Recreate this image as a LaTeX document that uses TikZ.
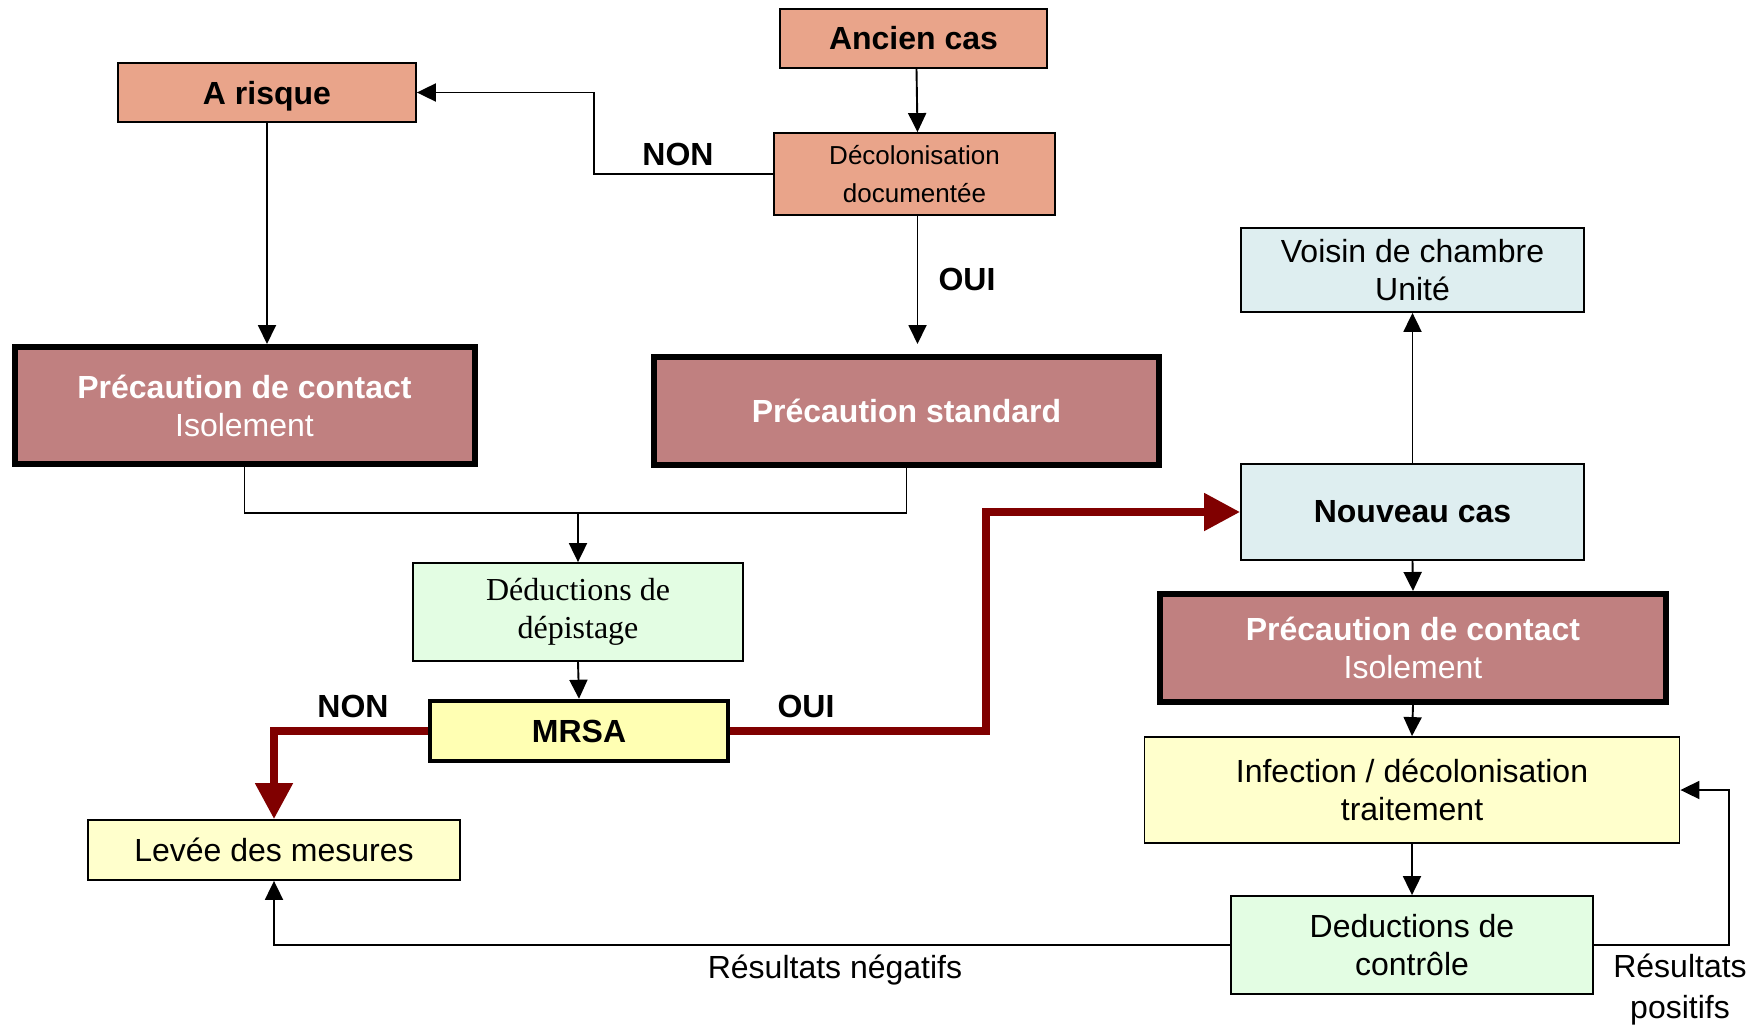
\documentclass[tikz,border=0pt]{standalone}
\usepackage{fontspec}
\setmainfont{Liberation Sans}
\newfontfamily\timesfont{Liberation Serif}
\usetikzlibrary{arrows.meta}
\definecolor{salmonc}{RGB}{233,164,138}
\definecolor{mauvec}{RGB}{192,128,128}
\definecolor{bluec}{RGB}{222,238,240}
\definecolor{greenc}{RGB}{227,253,227}
\definecolor{yellowc}{RGB}{255,255,204}
\definecolor{mrsac}{RGB}{255,255,179}
\definecolor{darkredc}{RGB}{128,0,0}
\begin{document}
\begin{tikzpicture}[x=1pt,y=-1pt,
  box/.style={draw=black, line width=1.8pt, inner sep=0pt, align=center,
    font=\fontsize{32}{38}\selectfont},
  heavybox/.style={box, line width=6pt, fill=mauvec, text=white},
  arr/.style={line width=1.9pt, -{Triangle[length=19pt,width=18pt]}},
  plain/.style={line width=1.9pt},
  redarr/.style={draw=darkredc, line width=8pt, -{Triangle[length=36pt,width=36pt]}},
  lbl/.style={font=\fontsize{32}{38}\selectfont\bfseries, inner sep=0pt},
  txt/.style={font=\fontsize{32}{38}\selectfont, inner sep=0pt, align=center}
]
\useasboundingbox (0,0) rectangle (1764,1025);

% nodes
\node[box, fill=salmonc, minimum width=267pt, minimum height=59pt, font=\fontsize{32}{38}\selectfont\bfseries] (ancien) at (913.5,38.5) {Ancien cas};
\node[box, fill=salmonc, minimum width=298pt, minimum height=59pt, text depth=0pt, font=\fontsize{32}{38}\selectfont\bfseries] (arisque) at (267,92.5) {A risque};
\node[box, fill=salmonc, minimum width=281pt, minimum height=82pt, font=\fontsize{26}{38}\selectfont] (decol) at (914.5,174) {Décolonisation\\documentée};
\node[heavybox, minimum width=460pt, minimum height=117pt] (pcl) at (244.5,405.5) {\textbf{Précaution de contact}\\Isolement};
\node[heavybox, minimum width=505pt, minimum height=108pt, font=\fontsize{32}{38}\selectfont\bfseries] (pstd) at (906.5,411) {Précaution standard};
\node[box, fill=greenc, minimum width=330pt, minimum height=98pt, font=\fontsize{32}{38}\timesfont] (dep) at (578,612) {Déductions de\\dépistage};
\node[box, fill=mrsac, line width=4.5pt, minimum width=298pt, minimum height=60pt, font=\fontsize{32}{38}\selectfont\bfseries] (mrsa) at (579,731) {MRSA};
\node[box, fill=yellowc, minimum width=372pt, minimum height=60pt] (levee) at (274,850) {Levée des mesures};
\node[box, fill=bluec, minimum width=343pt, minimum height=84pt] (voisin) at (1412.5,270) {Voisin de chambre\\Unité};
\node[box, fill=bluec, minimum width=343pt, minimum height=96pt, font=\fontsize{32}{38}\selectfont\bfseries] (nouveau) at (1412.5,512) {Nouveau cas};
\node[heavybox, minimum width=506pt, minimum height=108pt] (pcr) at (1413,648) {\textbf{Précaution de contact}\\Isolement};
\node[box, fill=yellowc, minimum width=535pt, minimum height=106pt] (infect) at (1412,790) {Infection / décolonisation\\traitement};
\node[box, fill=greenc, minimum width=362pt, minimum height=98pt] (controle) at (1412,945) {Deductions de\\contrôle};

% labels
\node[lbl] (non1) at (678,154) {NON};
\node[lbl] (oui1) at (967,279) {OUI};
\node[lbl] (non2) at (353,706) {NON};
\node[lbl] (oui2) at (806,706) {OUI};
\node[txt] (neg) at (835,970) {Résultats négatifs};
\node[txt] (pos) at (1680,990) {Résultats\\[3pt]positifs};

% connectors
\draw[arr] ([xshift=3pt]ancien.south) -- ([xshift=3pt]decol.north);
\draw[arr] (decol.west) -- ++(-179,0) |- (arisque.east);
\draw[arr] (arisque.south) -- (arisque.south |- pcl.north);
\draw[arr, shorten >=10pt] ([xshift=3pt]decol.south) -- ([xshift=3pt]decol.south |- pstd.north);
\coordinate (jn) at (578,513);
\draw[plain] (pcl.south) |- (jn) -| (pstd.south);
\draw[arr] (jn) -- (dep.north);
\draw[arr] (dep.south) -- (mrsa.north);
\draw[redarr] (mrsa.west) -| (levee.north);
\draw[redarr] (mrsa.east) -- ++(256,0) |- (nouveau.west);
\draw[arr] (nouveau.north) -- (voisin.south);
\draw[arr] (nouveau.south) -- (pcr.north);
\draw[arr] (pcr.south) -- (infect.north);
\draw[arr] (infect.south) -- (controle.north);
\draw[arr] (controle.west) -| (levee.south);
\draw[arr] (controle.east) -- ++(135,0) |- (infect.east);
\end{tikzpicture}
\end{document}
